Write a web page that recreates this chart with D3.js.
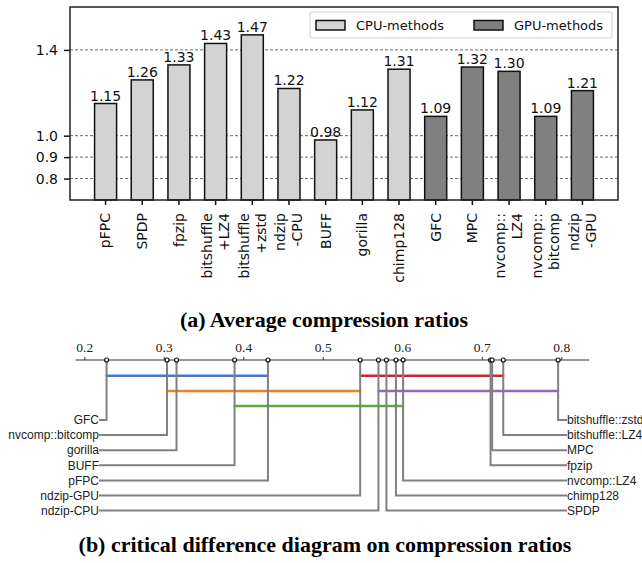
<!doctype html>
<html lang="en">
<head>
<meta charset="utf-8">
<title>Compression ratios</title>
<script src="https://cdn.jsdelivr.net/npm/d3@7"></script>
<style>
body { margin: 0; background: #fff; }
svg { display: block; }
</style>
</head>
<body>
<div id="chart"></div>
<script>

var width = 642;
var height = 563;

// (a) average compression ratio per method
var methods = ["pFPC", "SPDP", "fpzip", "bitshuffle\n+LZ4", "bitshuffle\n+zstd", "ndzip\n-CPU", "BUFF",
               "gorilla", "chimp128", "GFC", "MPC", "nvcomp::\nLZ4", "nvcomp::\nbitcomp", "ndzip\n-GPU"];
var ratios = [1.15, 1.26, 1.33, 1.43, 1.47, 1.22, 0.98, 1.12, 1.31, 1.09, 1.32, 1.30, 1.09, 1.21];
var groups = ["CPU", "CPU", "CPU", "CPU", "CPU", "CPU", "CPU", "CPU", "CPU", "GPU", "GPU", "GPU", "GPU", "GPU"];
var groupNames = ["CPU-methods", "GPU-methods"];
var yTicks = [0.8, 0.9, 1.0, 1.4];

// (b) critical difference diagram
var cdNames = ["GFC", "nvcomp::bitcomp", "gorilla", "BUFF", "pFPC", "ndzip-GPU", "ndzip-CPU",
               "SPDP", "chimp128", "nvcomp::LZ4", "fpzip", "MPC", "bitshuffle::LZ4", "bitshuffle::zstd"];
var cdRanks = [0.228, 0.304, 0.316, 0.389, 0.431, 0.547, 0.570, 0.580, 0.592, 0.601, 0.711, 0.713, 0.727, 0.796];
var cdTicks = [0.2, 0.3, 0.4, 0.5, 0.6, 0.7, 0.8];
var cliqueFrom = ["GFC", "nvcomp::bitcomp", "BUFF", "ndzip-GPU", "ndzip-CPU"];
var cliqueTo = ["pFPC", "ndzip-GPU", "nvcomp::LZ4", "bitshuffle::LZ4", "bitshuffle::zstd"];

var fillColor = { CPU: "#d3d3d3", GPU: "#808080" };
var cliqueColors = ["#4878c4", "#f0821e", "#5aab3c", "#c9282d", "#9069c0"];

var sans = "DejaVu Sans, sans-serif";

var svg = d3.select("#chart").append("svg")
    .attr("width", width)
    .attr("height", height);

// ---------- top: bar chart ----------
// (note: "top" is taken by window.top, so use other names)
var plotL = 70, plotR = 618, plotT = 7, plotB = 200;

var x = d3.scaleBand()
    .domain(d3.range(methods.length))
    .range([plotL, plotR])
    .paddingInner(0.4)
    .paddingOuter(0.67);

var y = d3.scaleLinear()
    .domain([0.7, 1.6])
    .range([plotB, plotT]);

// dashed grid lines
svg.append("g").selectAll("line")
    .data(yTicks)
    .enter().append("line")
    .attr("x1", plotL).attr("x2", plotR)
    .attr("y1", function(d) { return y(d); })
    .attr("y2", function(d) { return y(d); })
    .attr("stroke", "#444")
    .attr("stroke-width", 0.8)
    .attr("stroke-dasharray", "3,2");

svg.append("g").selectAll("rect")
    .data(ratios)
    .enter().append("rect")
    .attr("x", function(d, i) { return x(i); })
    .attr("y", function(d) { return y(d); })
    .attr("width", x.bandwidth())
    .attr("height", function(d) { return plotB - y(d); })
    .attr("fill", function(d, i) { return fillColor[groups[i]]; })
    .attr("stroke", "#111")
    .attr("stroke-width", 1.5);

svg.append("g").selectAll("text")
    .data(ratios)
    .enter().append("text")
    .attr("x", function(d, i) { return x(i) + x.bandwidth() / 2; })
    .attr("y", function(d) { return y(d) - 3; })
    .attr("text-anchor", "middle")
    .attr("font-family", sans)
    .attr("font-size", 14)
    .attr("fill", "#111")
    .text(function(d) { return d.toFixed(2); });

// y axis
var yAxis = svg.append("g")
    .attr("transform", "translate(" + plotL + ",0)")
    .call(d3.axisLeft(y).tickValues(yTicks).tickFormat(d3.format(".1f")).tickSize(6).tickPadding(6));
yAxis.select(".domain").remove();
yAxis.selectAll(".tick line").attr("stroke", "#111").attr("stroke-width", 1.5);
yAxis.selectAll(".tick text").attr("font-family", sans).attr("font-size", 14).attr("fill", "#111");

// x axis
var xAxis = svg.append("g")
    .attr("transform", "translate(0," + plotB + ")")
    .call(d3.axisBottom(x).tickSize(5).tickFormat(""));
xAxis.select(".domain").remove();
xAxis.selectAll(".tick line").attr("stroke", "#111").attr("stroke-width", 1.5);

var xLabels = svg.append("g").selectAll("text")
    .data(methods)
    .enter().append("text")
    .attr("transform", function(d, i) {
        return "translate(" + (x(i) + x.bandwidth() / 2) + "," + (plotB + 13) + ") rotate(-90)";
    })
    .attr("text-anchor", "end")
    .attr("font-family", sans)
    .attr("font-size", 14)
    .attr("fill", "#111");

xLabels.each(function(d) {
    var lines = d.split("\n");
    var lh = 17;
    var t = d3.select(this);
    lines.forEach(function(l, k) {
        t.append("tspan")
            .attr("x", 0)
            .attr("y", (k - (lines.length - 1) / 2) * lh)
            .attr("dy", "0.35em")
            .text(l);
    });
});

// frame
svg.append("rect")
    .attr("x", plotL).attr("y", plotT)
    .attr("width", plotR - plotL).attr("height", plotB - plotT)
    .attr("fill", "none")
    .attr("stroke", "#222")
    .attr("stroke-width", 1.5);

// legend
var legend = svg.append("g");
legend.append("rect")
    .attr("x", 310).attr("y", 12)
    .attr("width", 302).attr("height", 26)
    .attr("rx", 2)
    .attr("fill", "#fff")
    .attr("stroke", "#d0d0d0");
var legX = [316, 474];
groupNames.forEach(function(name, k) {
    legend.append("rect")
        .attr("x", legX[k]).attr("y", 20.5)
        .attr("width", 29).attr("height", 9.5)
        .attr("fill", fillColor[k === 0 ? "CPU" : "GPU"])
        .attr("stroke", "#111")
        .attr("stroke-width", 1.5);
    legend.append("text")
        .attr("x", legX[k] + 40).attr("y", 25.5)
        .attr("dy", "0.35em")
        .attr("font-family", sans)
        .attr("font-size", 13)
        .attr("fill", "#111")
        .text(name);
});

svg.append("text")
    .attr("x", 324).attr("y", 327)
    .attr("text-anchor", "middle")
    .attr("font-family", "Liberation Serif, serif")
    .attr("font-weight", "bold")
    .attr("font-size", 22)
    .text("(a) Average compression ratios");

// ---------- bottom: critical difference diagram ----------
var cx = d3.scaleLinear()
    .domain([0.2, 0.8])
    .range([84.3, 561.3]);
var axisY = 360;

var cd = svg.append("g");

cd.append("line")
    .attr("x1", cx(0.189)).attr("x2", cx(0.835))
    .attr("y1", axisY).attr("y2", axisY)
    .attr("stroke", "#333")
    .attr("stroke-width", 1.2);

var cdAxis = cd.append("g")
    .attr("transform", "translate(0," + axisY + ")")
    .call(d3.axisTop(cx).tickValues(cdTicks).tickFormat(d3.format(".1f")).tickSize(3).tickPadding(5));
cdAxis.select(".domain").remove();
cdAxis.attr("font-family", "Liberation Serif, serif").attr("font-size", 13.5);
cdAxis.selectAll(".tick line").attr("stroke", "#333");
cdAxis.selectAll(".tick text").attr("fill", "#222");

var rankOf = {};
cdNames.forEach(function(n, i) { rankOf[n] = cdRanks[i]; });

// cliques: put each on the first free row
var rowEnds = [];
var cliques = cliqueFrom.map(function(f, k) {
    var a = rankOf[f], b = rankOf[cliqueTo[k]];
    var row = 0;
    while (row < rowEnds.length && rowEnds[row] >= a) row++;
    rowEnds[row] = b;
    return { a: a, b: b, row: row, color: cliqueColors[k] };
});

cd.append("g").selectAll("line")
    .data(cliques)
    .enter().append("line")
    .attr("x1", function(d) { return cx(d.a) - 1; })
    .attr("x2", function(d) { return cx(d.b) + 1; })
    .attr("y1", function(d) { return 375.7 + d.row * 15.2; })
    .attr("y2", function(d) { return 375.7 + d.row * 15.2; })
    .attr("stroke", function(d) { return d.color; })
    .attr("stroke-width", 2.5);

var half = Math.ceil(cdNames.length / 2);
var cdItems = cdNames.map(function(n, i) {
    var isLeft = i < half;
    var slot = isLeft ? i : cdNames.length - 1 - i;
    return { name: n, r: cdRanks[i], left: isLeft, ly: 420 + slot * 15.1 };
});

cd.append("g").selectAll("path")
    .data(cdItems)
    .enter().append("path")
    .attr("d", function(d) {
        var ex = d.left ? 99 : 567;
        return "M" + cx(d.r) + "," + axisY + "V" + d.ly + "H" + ex;
    })
    .attr("fill", "none")
    .attr("stroke", "#808080")
    .attr("stroke-width", 2);

cd.append("g").selectAll("text")
    .data(cdItems)
    .enter().append("text")
    .attr("x", function(d) { return d.left ? 99 : 567; })
    .attr("y", function(d) { return d.ly; })
    .attr("dy", "0.35em")
    .attr("text-anchor", function(d) { return d.left ? "end" : "start"; })
    .attr("font-family", "Liberation Sans, sans-serif")
    .attr("font-size", 12)
    .attr("fill", "#222")
    .text(function(d) { return d.name; });

cd.append("g").selectAll("circle")
    .data(cdItems)
    .enter().append("circle")
    .attr("cx", function(d) { return cx(d.r); })
    .attr("cy", axisY)
    .attr("r", 2)
    .attr("fill", "#fff")
    .attr("stroke", "#111")
    .attr("stroke-width", 1.2);

svg.append("text")
    .attr("x", 325).attr("y", 552)
    .attr("text-anchor", "middle")
    .attr("font-family", "Liberation Serif, serif")
    .attr("font-weight", "bold")
    .attr("font-size", 22)
    .text("(b) critical difference diagram on compression ratios");

</script>
</body>
</html>
